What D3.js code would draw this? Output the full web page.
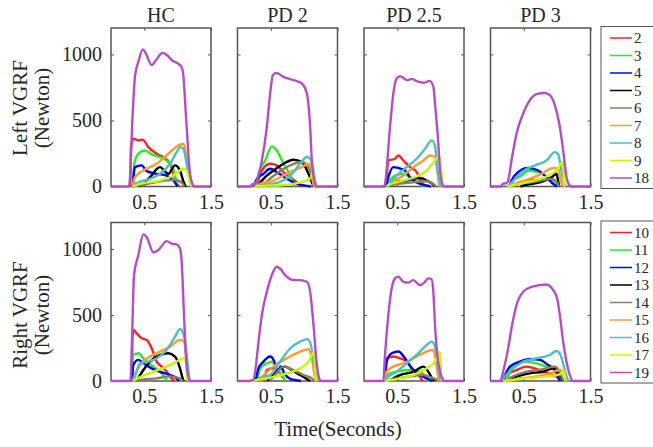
<!DOCTYPE html>
<html lang="en">
<head>
<meta charset="UTF-8">
<script src="https://d3js.org/d3.v7.min.js"></script>
<style>
  body { margin: 0; background: #fff; }
  text { font-family: "Liberation Serif", "Times New Roman", serif; fill: #262626; }
</style>
</head>
<body>
<div id="chart"></div>
<script>
// panel titles, legend ids, colours, ticks
const panelTitles = ["HC", "PD 2", "PD 2.5", "PD 3"];
const leftIds = ["2", "3", "4", "5", "6", "7", "8", "9", "18"];
const rightIds = ["10", "11", "12", "13", "14", "15", "16", "17", "19"];
const seriesColors = ["#ff2020", "#22ee22", "#0000ff", "#000000", "#8b7d5b", "#ff9a2e", "#4bbec8", "#c8f800", "#b54ec5"];
const xTicks = [0.5, 1.5];
const yTicks = [0, 500, 1000];

// [time (s), force (N)] per series, order = legend order
const leftHC = [
  [[0.29,0],[0.30,300],[0.335,362],[0.41,349],[0.475,355],[0.56,298],[0.685,248],[0.785,222],[0.885,175],[0.935,96],[0.985,30],[1.02,0]],
  [[0.33,0],[0.345,150],[0.36,197],[0.435,260],[0.51,273],[0.61,243],[0.735,222],[0.835,197],[0.92,150],[0.97,60],[1.0,0]],
  [[0.33,0],[0.345,110],[0.36,147],[0.46,160],[0.535,116],[0.685,96],[0.835,83],[0.935,45],[1.0,0]],
  [[0.42,0],[0.5,30],[0.585,71],[0.735,147],[0.86,96],[0.96,160],[1.035,121],[1.085,40],[1.12,0]],
  [[0.33,0],[0.45,10],[0.7,35],[0.95,50],[1.05,35],[1.1,0]],
  [[0.32,0],[0.36,71],[0.485,121],[0.685,172],[0.885,260],[1.01,311],[1.085,324],[1.135,222],[1.185,40],[1.2,0]],
  [[0.33,0],[0.385,25],[0.535,50],[0.735,96],[0.885,172],[0.985,260],[1.035,298],[1.085,285],[1.135,172],[1.185,35],[1.2,0]],
  [[0.33,0],[0.435,20],[0.735,45],[0.935,83],[1.085,134],[1.135,121],[1.185,30],[1.2,0]],
  [[0,0],[0.27,0],[0.33,600],[0.36,835],[0.42,960],[0.475,1038],[0.52,1010],[0.61,919],[0.68,960],[0.77,1012],[0.85,990],[0.91,957],[1.035,919],[1.075,880],[1.135,450],[1.185,97],[1.235,8],[1.26,0],[1.5,0]]
];
const leftPD2 = [
  [[0.3,0],[0.33,80],[0.365,121],[0.49,172],[0.59,160],[0.69,109],[0.79,70],[0.89,30],[0.95,0]],
  [[0.28,0],[0.315,96],[0.415,197],[0.515,304],[0.59,273],[0.69,172],[0.765,109],[0.815,50],[0.85,0]],
  [[0.25,0],[0.29,58],[0.39,96],[0.49,134],[0.59,109],[0.74,58],[0.89,20],[1.04,5],[1.1,0]],
  [[0.3,0],[0.39,58],[0.54,121],[0.69,172],[0.84,203],[0.965,185],[1.065,96],[1.14,8],[1.16,0]],
  [[0.35,0],[0.54,80],[0.79,160],[0.965,185],[1.09,120],[1.14,15],[1.16,0]],
  [[0.28,0],[0.34,20],[0.54,45],[0.69,83],[0.84,121],[0.965,147],[1.065,172],[1.115,120],[1.14,15],[1.16,0]],
  [[0.3,0],[0.39,10],[0.64,35],[0.79,83],[0.94,172],[1.04,223],[1.09,210],[1.14,120],[1.18,8],[1.2,0]],
  [[0.25,0],[0.29,3],[0.64,10],[0.89,25],[1.09,60],[1.13,110],[1.17,0]],
  [[0,0],[0.2,0],[0.22,20],[0.25,15],[0.265,20],[0.365,197],[0.44,450],[0.49,704],[0.53,843],[0.58,860],[0.69,830],[0.84,805],[0.965,780],[1.04,704],[1.09,450],[1.115,197],[1.165,20],[1.18,0],[1.5,0]]
];
const leftPD25 = [
  [[0.33,0],[0.34,70],[0.365,197],[0.465,210],[0.515,235],[0.59,197],[0.69,147],[0.79,109],[0.865,30],[0.9,0]],
  [[0.33,0],[0.365,30],[0.465,83],[0.59,96],[0.715,58],[0.84,20],[0.9,0]],
  [[0.33,0],[0.365,70],[0.44,147],[0.515,140],[0.615,121],[0.69,70],[0.79,30],[0.94,8],[1.0,0]],
  [[0.38,0],[0.44,30],[0.64,45],[0.79,63],[0.865,63],[0.94,45],[1.04,15],[1.07,0]],
  [[0.35,0],[0.4,10],[0.69,30],[0.94,40],[1.04,20],[1.08,0]],
  [[0.35,0],[0.39,20],[0.59,83],[0.74,147],[0.89,197],[0.99,235],[1.065,223],[1.1,120],[1.13,10],[1.14,0]],
  [[0.34,0],[0.36,10],[0.49,83],[0.64,147],[0.79,210],[0.915,285],[1.015,349],[1.065,311],[1.1,140],[1.14,15],[1.16,0]],
  [[0.34,0],[0.36,8],[0.59,45],[0.79,76],[0.94,121],[1.065,197],[1.13,230],[1.16,120],[1.18,0]],
  [[0,0],[0.3,0],[0.315,20],[0.39,450],[0.44,704],[0.49,818],[0.54,835],[0.57,830],[0.64,805],[0.72,815],[0.8,795],[0.9,785],[0.98,800],[1.04,760],[1.065,628],[1.115,324],[1.14,120],[1.18,10],[1.2,0],[1.5,0]]
];
const leftPD3 = [
  [[0.38,0],[0.415,30],[0.665,50],[0.865,50],[0.965,10],[0.99,0]],
  [[0.3,0],[0.34,45],[0.465,83],[0.565,121],[0.715,109],[0.865,65],[0.965,20],[1.0,0]],
  [[0.28,0],[0.315,45],[0.415,109],[0.565,140],[0.715,121],[0.84,70],[0.94,20],[1.0,0]],
  [[0.45,0],[0.515,10],[0.765,35],[0.915,70],[0.99,96],[1.015,40],[1.03,0]],
  [[0.32,0],[0.365,15],[0.665,35],[0.915,58],[0.99,35],[1.03,0]],
  [[0.28,0],[0.3,5],[0.515,45],[0.765,96],[0.94,140],[1.015,134],[1.055,45],[1.08,0]],
  [[0.27,0],[0.3,20],[0.465,109],[0.665,160],[0.84,197],[0.965,260],[1.015,245],[1.055,147],[1.09,45],[1.125,5],[1.14,0]],
  [[0.25,0],[0.565,35],[0.815,70],[0.99,121],[1.09,185],[1.1,45],[1.11,0]],
  [[0,0],[0.16,0],[0.18,20],[0.24,25],[0.265,45],[0.315,197],[0.39,400],[0.49,552],[0.59,653],[0.69,699],[0.815,708],[0.89,691],[0.965,615],[1.04,450],[1.09,273],[1.14,70],[1.19,5],[1.21,0],[1.5,0]]
];
const rightHC = [
  [[0.315,0],[0.32,300],[0.335,386],[0.385,361],[0.46,323],[0.535,311],[0.61,248],[0.685,147],[0.76,109],[0.835,70],[0.91,20],[0.95,0]],
  [[0.315,0],[0.325,150],[0.335,197],[0.41,210],[0.485,172],[0.56,134],[0.635,109],[0.735,70],[0.85,0]],
  [[0.315,0],[0.335,121],[0.41,160],[0.51,126],[0.61,96],[0.735,70],[0.885,45],[0.985,20],[1.02,0]],
  [[0.38,0],[0.435,45],[0.585,147],[0.735,197],[0.86,210],[0.96,185],[1.035,96],[1.075,20],[1.09,0]],
  [[0.38,0],[0.435,8],[0.685,20],[0.885,35],[1.035,20],[1.08,0]],
  [[0.32,0],[0.335,20],[0.435,121],[0.585,185],[0.735,223],[0.885,260],[1.035,311],[1.095,298],[1.135,147],[1.175,8],[1.19,0]],
  [[0.32,0],[0.335,8],[0.435,134],[0.56,147],[0.685,172],[0.835,235],[0.96,336],[1.035,393],[1.085,361],[1.135,197],[1.175,20],[1.19,0]],
  [[0.335,0],[0.435,30],[0.635,70],[0.835,109],[0.985,147],[1.085,172],[1.115,160],[1.145,20],[1.16,0]],
  [[0,0],[0.29,0],[0.32,400],[0.345,800],[0.41,953],[0.485,1110],[0.535,1090],[0.635,973],[0.71,991],[0.835,1059],[0.91,1040],[0.985,1034],[1.035,1003],[1.06,902],[1.095,499],[1.135,121],[1.185,0],[1.5,0]]
];
const rightPD2 = [
  [[0.4,0],[0.44,83],[0.54,96],[0.615,70],[0.69,20],[0.72,0]],
  [[0.3,0],[0.34,96],[0.44,134],[0.515,147],[0.59,96],[0.665,45],[0.72,0]],
  [[0.27,0],[0.315,96],[0.39,147],[0.49,185],[0.55,150],[0.6,70],[0.65,110],[0.7,60],[0.8,15],[0.9,5],[0.95,0]],
  [[0.45,0],[0.49,20],[0.615,83],[0.715,109],[0.815,83],[0.94,45],[1.065,8],[1.09,0]],
  [[0.48,0],[0.54,30],[0.69,109],[0.84,83],[0.99,45],[1.115,20],[1.15,0]],
  [[0.3,0],[0.34,20],[0.54,109],[0.74,172],[0.94,223],[1.065,240],[1.115,172],[1.165,20],[1.18,0]],
  [[0.27,0],[0.29,8],[0.49,45],[0.64,147],[0.79,248],[0.94,298],[1.05,317],[1.1,273],[1.165,70],[1.2,5],[1.21,0]],
  [[0.19,0],[0.44,20],[0.74,58],[0.94,96],[1.065,147],[1.15,219],[1.165,70],[1.18,0]],
  [[0,0],[0.17,0],[0.24,10],[0.265,70],[0.315,297],[0.365,499],[0.44,675],[0.515,802],[0.59,865],[0.64,850],[0.715,802],[0.84,764],[0.94,764],[1.04,751],[1.09,675],[1.14,424],[1.19,121],[1.24,5],[1.26,0],[1.5,0]]
];
const rightPD25 = [
  [[0.32,0],[0.34,172],[0.44,185],[0.54,172],[0.64,147],[0.74,83],[0.84,30],[0.88,0]],
  [[0.31,0],[0.34,45],[0.49,70],[0.64,83],[0.84,70],[0.94,20],[0.98,0]],
  [[0.31,0],[0.34,147],[0.415,210],[0.515,223],[0.615,172],[0.715,96],[0.84,45],[0.99,8],[1.02,0]],
  [[0.4,0],[0.44,20],[0.54,45],[0.74,70],[0.89,109],[0.965,70],[1.04,8],[1.06,0]],
  [[0.35,0],[0.39,8],[0.64,30],[0.89,45],[1.04,20],[1.14,3],[1.16,0]],
  [[0.31,0],[0.34,70],[0.44,109],[0.59,134],[0.79,185],[0.94,223],[1.04,235],[1.08,147],[1.115,20],[1.13,0]],
  [[0.31,0],[0.34,20],[0.49,70],[0.64,134],[0.79,197],[0.915,260],[1.015,298],[1.065,260],[1.115,96],[1.15,5],[1.16,0]],
  [[0.315,0],[0.54,20],[0.74,45],[0.94,96],[1.065,147],[1.14,219],[1.155,70],[1.17,0]],
  [[0,0],[0.29,0],[0.315,197],[0.365,499],[0.415,701],[0.465,777],[0.515,790],[0.59,751],[0.665,745],[0.74,764],[0.84,726],[0.915,751],[0.965,777],[1.015,770],[1.04,675],[1.065,424],[1.1,197],[1.14,70],[1.19,5],[1.2,0],[1.5,0]]
];
const rightPD3 = [
  [[0.2,0],[0.24,45],[0.39,83],[0.54,109],[0.665,96],[0.79,70],[0.94,45],[1.015,20],[1.04,0]],
  [[0.25,0],[0.29,70],[0.39,134],[0.54,147],[0.69,134],[0.84,109],[0.965,83],[1.015,30],[1.04,0]],
  [[0.16,0],[0.19,20],[0.29,109],[0.44,147],[0.59,166],[0.74,160],[0.865,121],[0.965,83],[1.015,30],[1.04,0]],
  [[0.3,0],[0.34,20],[0.59,58],[0.79,70],[0.94,96],[1.015,70],[1.065,20],[1.08,0]],
  [[0.25,0],[0.29,20],[0.54,70],[0.79,90],[0.965,109],[1.04,70],[1.09,5],[1.1,0]],
  [[0.3,0],[0.34,8],[0.64,30],[0.89,58],[1.04,83],[1.09,70],[1.14,20],[1.16,0]],
  [[0.16,0],[0.19,20],[0.34,96],[0.49,147],[0.69,172],[0.89,197],[0.99,227],[1.05,197],[1.115,83],[1.165,5],[1.18,0]],
  [[0.19,0],[0.54,20],[0.84,35],[1.04,50],[1.1,80],[1.13,5],[1.14,0]],
  [[0,0],[0.15,0],[0.165,20],[0.19,70],[0.265,247],[0.315,399],[0.39,575],[0.49,676],[0.615,713],[0.74,726],[0.84,731],[0.94,688],[1.0,625],[1.04,499],[1.09,297],[1.14,146],[1.19,45],[1.24,0],[1.5,0]]
];

const rows = [
  { label: ["Left VGRF", "(Newton)"], ids: leftIds, panels: [leftHC, leftPD2, leftPD25, leftPD3] },
  { label: ["Right VGRF", "(Newton)"], ids: rightIds, panels: [rightHC, rightPD2, rightPD25, rightPD3] }
];

const W = 653, H = 447;
const colX = [111, 237.5, 364, 490.5], pw = 100, ph = 158.5;
const rowY = [28, 222.5];
const labelCY = [108, 315];

const svg = d3.select('#chart').append('svg')
  .attr('width', W).attr('height', H);

const x = d3.scaleLinear().domain([0, 1.5]).range([0, pw]);
const y = d3.scaleLinear().domain([0, 1200]).range([ph, 0]);
const line = d3.line().x(d => x(d[0])).y(d => y(d[1])).curve(d3.curveMonotoneX);

rows.forEach((row, r) => {
  row.panels.forEach((series, c) => {
    const g = svg.append('g').attr('transform', 'translate(' + colX[c] + ',' + rowY[r] + ')');

    // ticks pointing inward, MATLAB style
    const ax = g.append('g').attr('transform', 'translate(0,' + ph + ')')
      .call(d3.axisBottom(x).tickValues(xTicks).tickSizeInner(-3).tickSizeOuter(0).tickPadding(8).tickFormat(d3.format('.1f')));
    g.append('g').call(d3.axisTop(x).tickValues(xTicks).tickSizeInner(-3).tickSizeOuter(0).tickFormat(''));
    const ay = g.append('g')
      .call(d3.axisLeft(y).tickValues(yTicks).tickSizeInner(-3).tickSizeOuter(0).tickPadding(9)
        .tickFormat(c === 0 ? d3.format('d') : ''));
    g.append('g').attr('transform', 'translate(' + pw + ',0)')
      .call(d3.axisRight(y).tickValues(yTicks).tickSizeInner(-3).tickSizeOuter(0).tickFormat(''));
    g.selectAll('.domain').remove();
    g.selectAll('.tick line').attr('stroke', '#555').attr('stroke-width', 1);
    g.selectAll('.tick text').attr('font-size', 20).attr('fill', '#262626')
      .style('font-family', '"Liberation Serif", "Times New Roman", serif');

    g.append('rect').attr('width', pw).attr('height', ph)
      .attr('fill', 'none').attr('stroke', '#555').attr('stroke-width', 1.5);

    series.forEach((pts, i) => {
      g.append('path').datum(pts)
        .attr('d', line)
        .attr('fill', 'none')
        .attr('stroke', seriesColors[i])
        .attr('stroke-width', 2.4)
        .attr('stroke-linejoin', 'round');
    });

    if (r === 0) {
      g.append('text').attr('x', pw / 2).attr('y', -6)
        .attr('text-anchor', 'middle').attr('font-size', 20).text(panelTitles[c]);
    }
  });

  // y label, two lines
  row.label.forEach((t, k) => {
    svg.append('text')
      .attr('transform', 'translate(' + (27 + k * 22) + ',' + labelCY[r] + ') rotate(-90)')
      .attr('text-anchor', 'middle')
      .attr('font-size', 21)
      .text(t);
  });

  // legend
  const lg = svg.append('g').attr('transform', 'translate(601,' + (rowY[r] - 1.5) + ')');
  lg.append('rect').attr('width', 70).attr('height', 162)
    .attr('fill', '#fff').attr('stroke', '#555').attr('stroke-width', 1);
  row.ids.forEach((id, i) => {
    const ly = 11.5 + i * 17.5;
    lg.append('line').attr('x1', 9).attr('x2', 31).attr('y1', ly).attr('y2', ly)
      .attr('stroke', seriesColors[i]).attr('stroke-width', 1.5);
    lg.append('text').attr('x', 33).attr('y', ly + 5).attr('font-size', 15).text(id);
  });
});

svg.append('text').attr('x', 338).attr('y', 436)
  .attr('text-anchor', 'middle').attr('font-size', 21).text('Time(Seconds)');
</script>
</body>
</html>
